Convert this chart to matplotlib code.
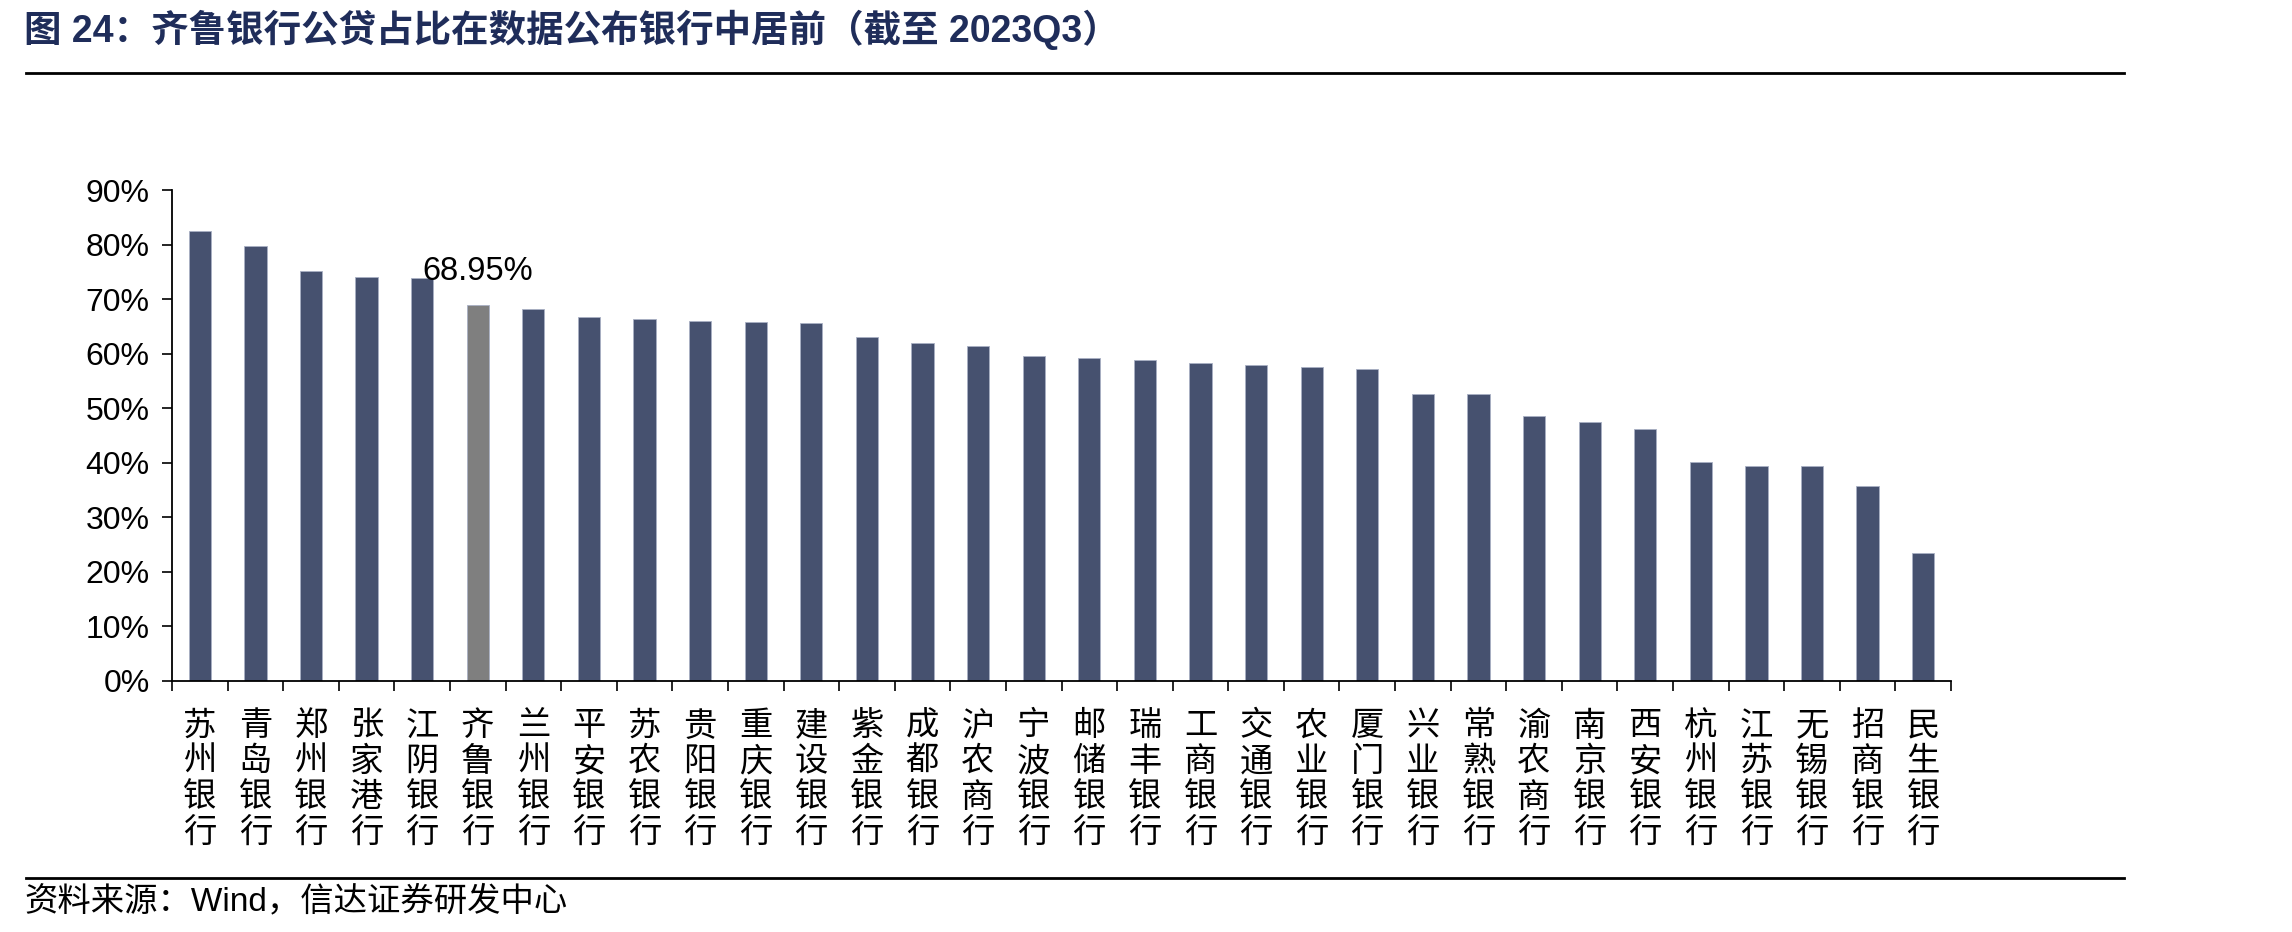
import matplotlib.pyplot as plt
from matplotlib.lines import Line2D
from matplotlib.ticker import FuncFormatter, FixedLocator

plt.rcParams['font.family'] = ['Liberation Sans', 'Noto Sans CJK SC', 'DejaVu Sans']

# data
banks = ['苏州银行', '青岛银行', '郑州银行', '张家港行', '江阴银行', '齐鲁银行', '兰州银行', '平安银行',
         '苏农银行', '贵阳银行', '重庆银行', '建设银行', '紫金银行', '成都银行', '沪农商行', '宁波银行',
         '邮储银行', '瑞丰银行', '工商银行', '交通银行', '农业银行', '厦门银行', '兴业银行', '常熟银行',
         '渝农商行', '南京银行', '西安银行', '杭州银行', '江苏银行', '无锡银行', '招商银行', '民生银行']
share = [0.826, 0.798, 0.752, 0.741, 0.739, 0.6895, 0.682, 0.667,
         0.664, 0.661, 0.659, 0.657, 0.631, 0.620, 0.614, 0.596,
         0.592, 0.589, 0.584, 0.580, 0.576, 0.572, 0.527, 0.526,
         0.486, 0.475, 0.462, 0.402, 0.394, 0.394, 0.358, 0.234]
highlight = '齐鲁银行'
yticks = [0, 0.1, 0.2, 0.3, 0.4, 0.5, 0.6, 0.7, 0.8, 0.9]

W, H = 2292, 932
fig = plt.figure(figsize=(W / 100, H / 100), dpi=100)
ax = fig.add_axes([172 / W, 1 - 680.7 / H, (1951 - 172) / W, (680.7 - 190.5) / H])

navy = '#46516F'
colors = ['#7F7F7F' if b == highlight else navy for b in banks]
x = list(range(len(banks)))
ax.bar(x, share, width=0.4, color=colors, edgecolor='#A9B0C4', linewidth=0.6)

ax.set_xlim(-0.5, len(banks) - 0.5)
ax.set_ylim(0, 0.9)
ax.set_yticks(yticks)
ax.yaxis.set_major_formatter(FuncFormatter(lambda v, p: f'{v * 100:.0f}%'))
ax.tick_params(axis='y', labelsize=23, length=7, width=1.2, pad=9, direction='out')

# x ticks sit on category boundaries, labels centred under bars
ax.xaxis.set_major_locator(FixedLocator([i - 0.5 for i in range(len(banks) + 1)]))
ax.xaxis.set_major_formatter(FuncFormatter(lambda v, p: ''))
ax.set_xticks(x, minor=True)
ax.set_xticklabels(['\n'.join(b) for b in banks], minor=True, fontsize=24,
                   family=['Noto Sans CJK SC'], linespacing=1.02, va='top')
ax.tick_params(axis='x', which='major', length=7, width=1.2, direction='out')
ax.tick_params(axis='x', which='minor', length=0, pad=20)

for s in ['top', 'right']:
    ax.spines[s].set_visible(False)
for s in ['left', 'bottom']:
    ax.spines[s].set_linewidth(1.3)

i = banks.index(highlight)
ax.annotate(f'{share[i] * 100:.2f}%', xy=(i, share[i]), xytext=(0, 18), textcoords='offset points',
            ha='center', va='baseline', fontsize=23.5)

# title, rules and source
fig.text(24 / W, 1 - 30 / H, '图 24：齐鲁银行公贷占比在数据公布银行中居前（截至 2023Q3）',
         fontsize=27, fontweight='bold', color='#1F2D5A', va='center', ha='left')
fig.add_artist(Line2D([26 / W, 2124 / W], [1 - 73 / H, 1 - 73 / H], color='black', linewidth=2))
fig.add_artist(Line2D([26 / W, 2124 / W], [1 - 878 / H, 1 - 878 / H], color='black', linewidth=2))
fig.text(24 / W, 1 - 902 / H, '资料来源：Wind，信达证券研发中心', fontsize=24, va='center', ha='left')

fig.savefig('out.png', dpi=100)
